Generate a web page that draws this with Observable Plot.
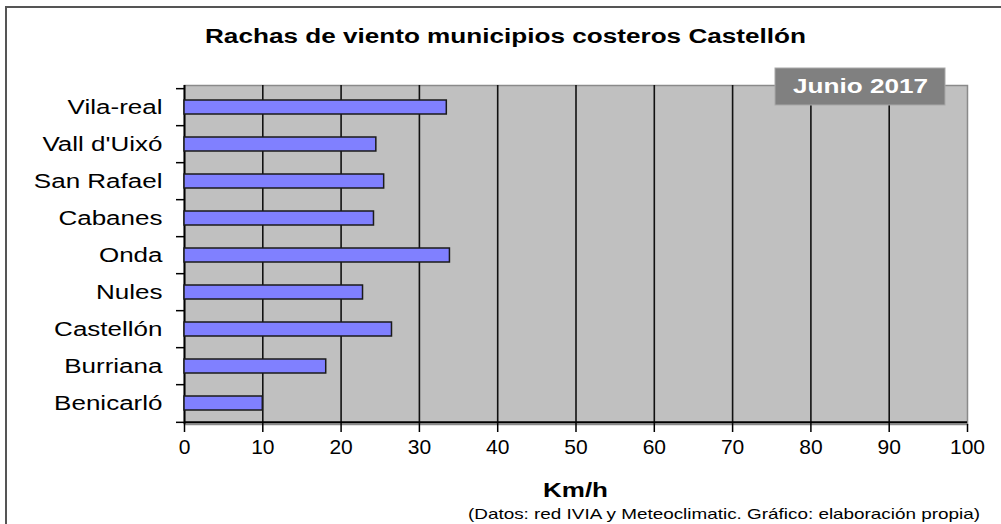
<!DOCTYPE html>
<html>
<head>
<meta charset="utf-8">
<script src="https://cdn.jsdelivr.net/npm/d3@7"></script>
<script src="https://cdn.jsdelivr.net/npm/@observablehq/plot@0.6"></script>
<style>
  html, body { margin: 0; padding: 0; background: #fff; }
  #wrap { position: relative; width: 1001px; height: 524px; overflow: hidden; font-family: "Liberation Sans", Arial, sans-serif; }
  #border { position: absolute; left: 5px; top: 6px; width: 1200px; height: 800px; border-left: 2px solid #555; border-top: 2px solid #555; }
  #chart { position: absolute; left: 0; top: 0; }
  #overlay { position: absolute; left: 0; top: 0; pointer-events: none; }
</style>
</head>
<body>
<div id="wrap">
  <div id="border"></div>
  <div id="chart"></div>
  <svg id="overlay" width="1001" height="524"></svg>
</div>
<script>
const cities = ["Vila-real", "Vall d'Uixó", "San Rafael", "Cabanes", "Onda", "Nules", "Castellón", "Burriana", "Benicarló"];
const gusts = [33.5, 24.5, 25.5, 24.2, 33.9, 22.8, 26.5, 18.1, 10.0];
const xTicks = [0, 10, 20, 30, 40, 50, 60, 70, 80, 90, 100];
const gridValues = [10, 20, 30, 40, 50, 60, 70, 80, 90];
const titleText = "Rachas de viento municipios costeros Castellón";
const badgeText = "Junio 2017";
const xLabel = "Km/h";
const captionText = "(Datos: red IVIA y Meteoclimatic. Gráfico: elaboración propia)";

const data = cities.map((c, i) => ({city: c, value: gusts[i]}));

const W = 1001, H = 524, mTop = 85, mBottom = 100, mLeft = 184, mRight = 34;
const step = (H - mTop - mBottom) / cities.length;

const plot = Plot.plot({
  width: W,
  height: H,
  marginTop: mTop,
  marginBottom: mBottom,
  marginLeft: mLeft,
  marginRight: mRight,
  style: {fontFamily: "'Liberation Sans', Arial, sans-serif", color: "#000", background: "transparent"},
  x: {domain: [0, 100], ticks: xTicks},
  y: {domain: cities, paddingInner: 0.63, paddingOuter: 0.315},
  marks: [
    Plot.frame({fill: "#c0c0c0", stroke: "#8a8a8a", strokeWidth: 1.5}),
    Plot.ruleX(gridValues, {stroke: "#111", strokeWidth: 1.6}),
    Plot.ruleX([0], {stroke: "#000", strokeWidth: 2}),
    Plot.ruleY([cities[cities.length - 1]], {dy: step / 2, stroke: "#000", strokeWidth: 2}),
    Plot.ruleY(cities, {dy: -step / 2, x1: 0, x2: 0, insetLeft: -8, stroke: "#000", strokeWidth: 1.5}),
    Plot.ruleY([cities[cities.length - 1]], {dy: step / 2, x1: 0, x2: 0, insetLeft: -8, stroke: "#000", strokeWidth: 1.5}),
    Plot.barX(data, {x: "value", y: "city", fill: "#8080ff", stroke: "#1a1a1a", strokeWidth: 1.5}),
    Plot.axisX({ticks: xTicks, tickSize: 8, tickPadding: 7, fontSize: 21, stroke: "#000", strokeWidth: 1.5, label: null}),
    Plot.axisY({tickSize: 0, tickPadding: 22, fontSize: 20, label: null})
  ]
});
document.getElementById("chart").appendChild(plot);

// stretch category labels horizontally like the reference
plot.querySelectorAll("g[aria-label='y-axis tick label'] text").forEach(t => {
  const len = t.getComputedTextLength();
  t.setAttribute("textLength", (len * 1.3).toFixed(1));
  t.setAttribute("lengthAdjust", "spacingAndGlyphs");
});

// overlay texts: title, badge, axis label, caption
const ov = d3.select("#overlay");
const ff = "'Liberation Sans', Arial, sans-serif";
ov.append("text").attr("x", 505.5).attr("y", 43).attr("text-anchor", "middle")
  .attr("font-family", ff).attr("font-weight", "bold").attr("font-size", 20)
  .attr("textLength", 601).attr("lengthAdjust", "spacingAndGlyphs").text(titleText);
ov.append("rect").attr("x", 775).attr("y", 68).attr("width", 170).attr("height", 37)
  .attr("fill", "#808080").attr("stroke", "#a8a8a8").attr("stroke-width", 1);
ov.append("text").attr("x", 860.5).attr("y", 93).attr("text-anchor", "middle")
  .attr("font-family", ff).attr("font-weight", "bold").attr("font-size", 20).attr("fill", "#fff")
  .attr("textLength", 135).attr("lengthAdjust", "spacingAndGlyphs").text(badgeText);
ov.append("text").attr("x", 575.5).attr("y", 497).attr("text-anchor", "middle")
  .attr("font-family", ff).attr("font-weight", "bold").attr("font-size", 21)
  .attr("textLength", 65).attr("lengthAdjust", "spacingAndGlyphs").text(xLabel);
ov.append("text").attr("x", 724).attr("y", 519).attr("text-anchor", "middle")
  .attr("font-family", ff).attr("font-size", 15)
  .attr("textLength", 512).attr("lengthAdjust", "spacingAndGlyphs").text(captionText);
</script>
</body>
</html>
